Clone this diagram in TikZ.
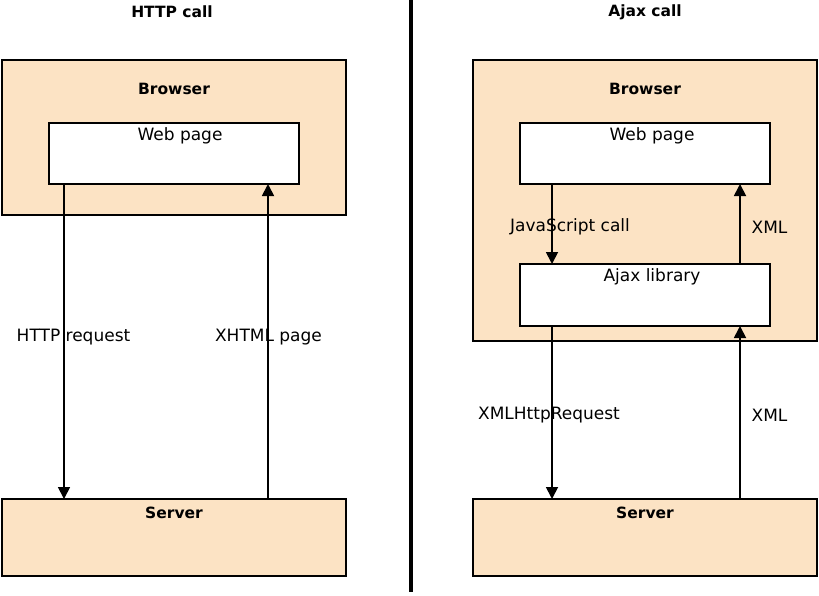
\documentclass[tikz,border=0pt]{standalone}
\usepackage{fontspec}
\setmainfont{DejaVu Sans}
\usetikzlibrary{arrows.meta}
\definecolor{peach}{HTML}{FCE3C4}
\tikzset{
  pbox/.style={draw=black, fill=peach, line width=1.8pt, inner sep=0pt, outer sep=0pt},
  wbox/.style={draw=black, fill=white, line width=1.8pt, inner sep=0pt, outer sep=0pt},
  lbl/.style={font=\fontsize{17}{19}\selectfont, inner sep=0pt},
  ttl/.style={font=\fontsize{15.5}{18}\selectfont\bfseries, inner sep=0pt},
  arr/.style={line width=1.8pt, -{Triangle[length=12pt,width=12pt]}}
}
\begin{document}
\begin{tikzpicture}[x=1pt,y=-1pt]
\useasboundingbox[fill=white] (0,0) rectangle (819,595);
% divider
\draw[line width=4pt] (411,0) -- (411,592);
% ---------- left: HTTP call ----------
\node[ttl] (t1) at (172,12) {HTTP call};
\node[pbox, minimum width=344pt, minimum height=155pt] (lb) at (174,137.5) {};
\node[ttl] (lbt) at (174,89) {Browser};
\node[wbox, minimum width=250pt, minimum height=61pt] (lwp) at (174,153.5) {};
\node[lbl] (lwpt) at (180,136) {Web page};
\node[pbox, minimum width=344pt, minimum height=77pt] (ls) at (174,537.5) {};
\node[ttl] (lst) at (174,513) {Server};
\draw[arr] (lwp.south -| 64,0) -- (ls.north -| 64,0);
\draw[arr] (ls.north -| 268,0) -- (lwp.south -| 268,0);
\node[lbl] (l1) at (73.5,337) {HTTP request};
\node[lbl] (l2) at (268.5,337) {XHTML page};
% ---------- right: Ajax call ----------
\node[ttl] (t2) at (645,12) {Ajax call};
\node[pbox, minimum width=344pt, minimum height=281pt] (rb) at (645,200.5) {};
\node[ttl] (rbt) at (645,89) {Browser};
\node[wbox, minimum width=250pt, minimum height=61pt] (rwp) at (645,153.5) {};
\node[lbl] (rwpt) at (652,136) {Web page};
\node[wbox, minimum width=250pt, minimum height=62pt] (ral) at (645,295) {};
\node[lbl] (ralt) at (652,277) {Ajax library};
\node[pbox, minimum width=344pt, minimum height=77pt] (rs) at (645,537.5) {};
\node[ttl] (rst) at (645,513) {Server};
\draw[arr] (rwp.south -| 552,0) -- (ral.north -| 552,0);
\draw[arr] (ral.north -| 740,0) -- (rwp.south -| 740,0);
\draw[arr] (ral.south -| 552,0) -- (rs.north -| 552,0);
\draw[arr] (rs.north -| 740,0) -- (ral.south -| 740,0);
\node[lbl] (r1) at (570,227) {JavaScript call};
\node[lbl] (r2) at (769.5,227) {XML};
\node[lbl] (r3) at (549,415) {XMLHttpRequest};
\node[lbl] (r4) at (769.5,415) {XML};
\end{tikzpicture}
\end{document}
